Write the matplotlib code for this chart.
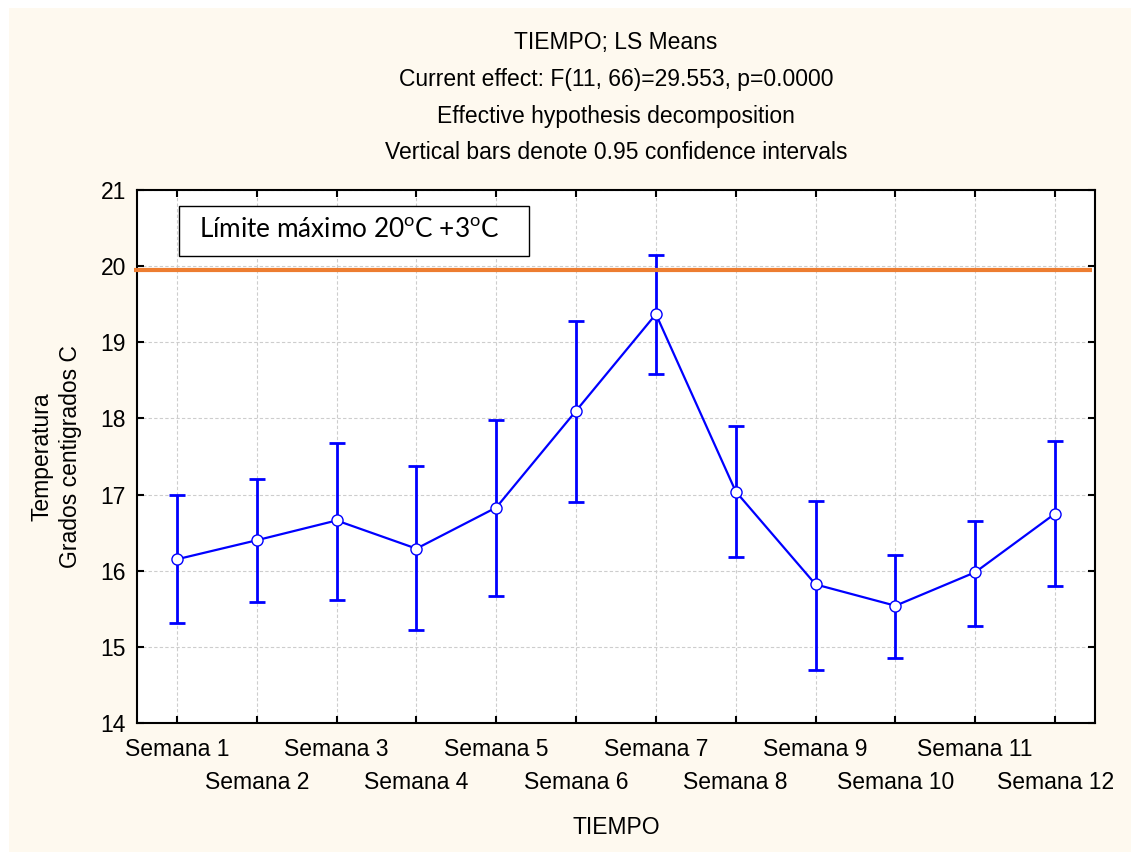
import matplotlib
matplotlib.use("Agg")
import matplotlib.pyplot as plt
from matplotlib.patches import Rectangle
from matplotlib.transforms import ScaledTranslation, blended_transform_factory

plt.rcParams['font.family'] = ['Liberation Sans', 'DejaVu Sans']
plt.rcParams['mathtext.fontset'] = 'custom'
plt.rcParams['mathtext.rm'] = 'Lato'

# LS means of temperature per week with 95% confidence limits
weeks = ["Semana 1", "Semana 2", "Semana 3", "Semana 4", "Semana 5", "Semana 6",
         "Semana 7", "Semana 8", "Semana 9", "Semana 10", "Semana 11", "Semana 12"]
means = [16.15, 16.40, 16.66, 16.29, 16.83, 18.10, 19.37, 17.04, 15.82, 15.54, 15.98, 16.75]
ci_low = [15.31, 15.59, 15.61, 15.22, 15.67, 16.90, 18.58, 16.18, 14.69, 14.85, 15.27, 15.80]
ci_high = [16.99, 17.21, 17.68, 17.37, 17.98, 19.28, 20.15, 17.90, 16.92, 16.21, 16.65, 17.71]
limit_value = 19.95
y_ticks = [14, 15, 16, 17, 18, 19, 20, 21]

title_lines = ["TIEMPO; LS Means",
               "Current effect: F(11, 66)=29.553, p=0.0000",
               "Effective hypothesis decomposition",
               "Vertical bars denote 0.95 confidence intervals"]

FS = 16.5

W, H = 1131, 852
fig = plt.figure(figsize=(W / 100, H / 100), dpi=100, facecolor='white')
fig.patches.append(Rectangle((9 / W, 0), 1 - 9 / W, 1 - 8 / H, transform=fig.transFigure,
                             facecolor='#FEF9EF', edgecolor='none', zorder=-10))

ax = fig.add_axes([137 / W, 1 - 723 / H, (1095 - 137) / W, (723 - 190) / H])
ax.set_facecolor('white')

x = list(range(len(weeks)))
err_lo = [m - l for m, l in zip(means, ci_low)]
err_hi = [h - m for m, h in zip(means, ci_high)]

ax.errorbar(x, means, yerr=[err_lo, err_hi], fmt='none', ecolor='#0000FF',
            elinewidth=2.0, capsize=5.5, capthick=2.0, zorder=3)
ax.plot(x, means, color='#0000FF', lw=1.6, marker='o', markersize=8,
        markerfacecolor='white', markeredgecolor='#0000FF', markeredgewidth=1.0, zorder=4)

# upper temperature limit
trans = blended_transform_factory(ax.transAxes, ax.transData)
ax.plot([-0.003, 0.997], [limit_value, limit_value], transform=trans,
        color='#ED7D31', lw=3.0, clip_on=False, zorder=5, solid_capstyle='butt')

ax.set_xlim(-0.5, 11.5)
ax.set_ylim(14, 21)
ax.set_yticks(y_ticks)
ax.set_xticks(x)
ax.set_xticklabels(weeks)

ax.grid(True, color='#CDCDCD', linestyle=(0, (3, 2)), linewidth=0.8)
ax.set_axisbelow(True)

for s in ax.spines.values():
    s.set_linewidth(1.5)
    s.set_color('black')

ax.tick_params(axis='both', which='both', direction='in', length=5, width=1.5,
               top=True, right=True, labelsize=FS, colors='black')
ax.tick_params(axis='x', pad=11)
ax.tick_params(axis='y', pad=8)

# stagger every second week label onto a lower row
for i, lab in enumerate(ax.get_xticklabels()):
    if i % 2 == 1:
        lab.set_transform(lab.get_transform() + ScaledTranslation(0, -0.33, fig.dpi_scale_trans))

# annotation box for the limit
box_x0, box_x1 = (179 - 137) / (1095 - 137), (529 - 137) / (1095 - 137)
box_y0, box_y1 = (723 - 256) / (723 - 190), (723 - 206) / (723 - 190)
ax.add_patch(Rectangle((box_x0, box_y0), box_x1 - box_x0, box_y1 - box_y0,
                       transform=ax.transAxes, facecolor='white', edgecolor='black',
                       lw=1.0, zorder=6))
ax.text((box_x0 + box_x1) / 2 - 0.005, (box_y0 + box_y1) / 2,
        r"Límite máximo 20$^{\mathrm{o}}$C +3$^{\mathrm{o}}$C",
        transform=ax.transAxes, ha='center', va='center', fontsize=18.8,
        family=['Lato', 'DejaVu Sans'], zorder=7)

for i, t in enumerate(title_lines):
    fig.text(616 / W, 1 - (43 + 36.5 * i) / H, t, ha='center', va='center', fontsize=FS)

fig.text(56 / W, 1 - 457 / H, "Temperatura\nGrados centigrados C", rotation=90,
         ha='center', va='center', fontsize=FS, linespacing=1.3)
fig.text(616 / W, 1 - 827 / H, "TIEMPO", ha='center', va='center', fontsize=FS)

fig.savefig("out.png", dpi=100, facecolor=fig.get_facecolor())
